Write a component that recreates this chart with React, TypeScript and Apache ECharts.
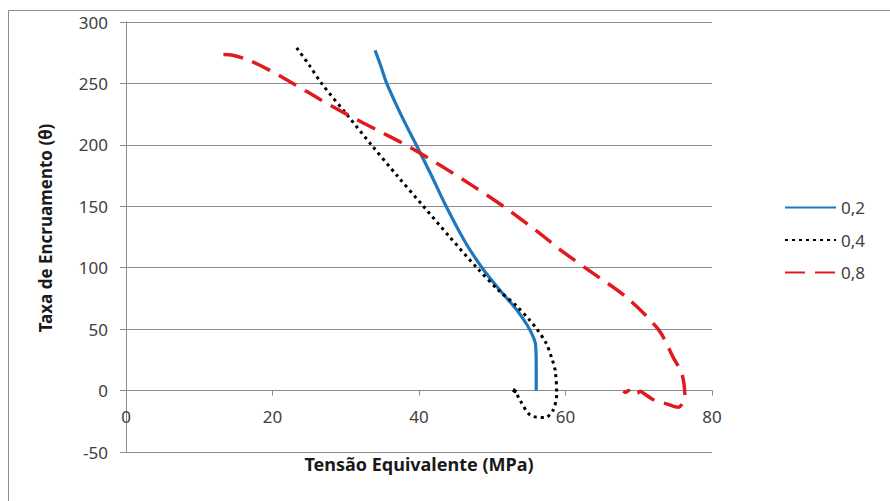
import React, { useEffect, useRef } from "react";
import * as echarts from "echarts";

const seriesNames = ["0,2", "0,4", "0,8"];

const s02: [number, number][] = [
  [34.0, 277], [34.8, 264], [35.6, 250], [37.5, 225], [39.7, 199], [41.7, 175],
  [43.7, 150], [46.2, 122], [48.6, 100], [51.0, 82], [53.3, 66], [54.7, 54],
  [55.5, 45], [55.9, 38], [56.0, 20], [56.0, 0],
];

const s04: [number, number][] = [
  [23.3, 279], [25.0, 265], [26.7, 250], [30.1, 225], [33.5, 200], [37.0, 175],
  [40.6, 150], [44.2, 125], [47.9, 100], [50.8, 82], [53.3, 69], [55.0, 58],
  [56.1, 50], [57.4, 38], [58.2, 25], [58.6, 16], [58.8, -3], [58.3, -16],
  [57.2, -22], [55.2, -20], [53.8, -8], [53.1, 0], [52.7, 1.5], [53.3, -1],
  [52.8, 0.5], [53.2, -1.5],
];

const s08: [number, number][] = [
  [13.3, 273.5], [14.6, 273], [16.9, 268.6], [19.5, 261], [22.8, 250], [26.5, 237],
  [30.1, 225], [34.3, 212], [38.5, 199], [43.0, 183], [47.5, 166], [51.5, 150],
  [56.7, 127], [59.2, 115], [62.9, 99], [68.3, 76], [72.7, 49.6], [74.7, 27],
  [75.9, 13.6], [76.3, -5.5], [75.9, -11], [75.4, -13.6], [73.8, -10.8],
  [72.2, -8.1], [70.6, -2], [70.2, -0.5], [69.8, -2], [69.4, 0], [69.0, -2],
  [68.6, 0], [68.2, -1.5], [67.9, -0.5],
];

const xTicks = { min: 0, max: 80, interval: 20 };
const yTicks = { min: -50, max: 300, interval: 50 };

const FONT = "Noto Sans";
const GRID_TOP = 22;
const GRID_BOTTOM = 49;
const GRID_H = 501 - GRID_TOP - GRID_BOTTOM;

export default function App() {
  const ref = useRef<HTMLDivElement>(null);
  useEffect(() => {
    if (!ref.current) return;
    const chart = echarts.init(ref.current, undefined, { renderer: "svg" });
    // x axis sits on y = 0: shift it up from the grid bottom by the height of (0 - min)
    const zeroOffset = (GRID_H * (0 - yTicks.min)) / (yTicks.max - yTicks.min);
    chart.setOption({
      animation: false,
      backgroundColor: "#ffffff",
      textStyle: { fontFamily: FONT },
      graphic: [
        {
          type: "rect",
          shape: { x: 8.5, y: 10.5, width: 1000, height: 1000 },
          style: { fill: "none", stroke: "#8c8c8c", lineWidth: 1 },
          silent: true,
        },
      ],
      grid: {
        left: 126,
        right: 178,
        top: GRID_TOP,
        bottom: GRID_BOTTOM,
        containLabel: false,
        outerBoundsMode: "none",
      },
      legend: {
        orient: "vertical",
        left: 779,
        top: 194,
        itemWidth: 51,
        itemHeight: 14,
        itemGap: 15.5,
        itemStyle: { opacity: 0 },
        textStyle: { fontSize: 17, color: "#404040", fontFamily: FONT },
        data: seriesNames,
      },
      xAxis: {
        type: "value",
        min: xTicks.min,
        max: xTicks.max,
        interval: xTicks.interval,
        position: "bottom",
        offset: -zeroOffset,
        name: "Tensão Equivalente (MPa)",
        nameLocation: "middle",
        nameGap: 64,
        nameTextStyle: { fontSize: 18, fontWeight: "bold", color: "#1a1a1a", fontFamily: FONT },
        axisLine: { onZero: false, lineStyle: { color: "#8c8c8c", width: 1 } },
        axisTick: { show: true, inside: false, length: 5, lineStyle: { color: "#8c8c8c" } },
        axisLabel: { fontSize: 17, color: "#404040", margin: 17, fontFamily: FONT },
        splitLine: { show: false },
      },
      yAxis: {
        type: "value",
        min: yTicks.min,
        max: yTicks.max,
        interval: yTicks.interval,
        name: "Taxa de Encruamento (θ)",
        nameLocation: "middle",
        nameGap: 72,
        nameTextStyle: {
          fontSize: 17,
          fontWeight: "bold",
          color: "#1a1a1a",
          fontFamily: FONT,
          padding: [0, 0, 0, 18],
        },
        axisLine: { show: true, onZero: false, lineStyle: { color: "#8c8c8c", width: 1 } },
        axisTick: { show: true, inside: false, length: 6, lineStyle: { color: "#8c8c8c" } },
        axisLabel: { fontSize: 17, color: "#404040", margin: 18, fontFamily: FONT },
        splitLine: { show: true, lineStyle: { color: "#8c8c8c", width: 1 } },
      },
      series: [
        {
          name: seriesNames[0],
          type: "line",
          data: s02,
          showSymbol: false,
          symbol: "none",
          smooth: 0.3,
          lineStyle: { color: "#1f77bd", width: 3.2, type: "solid" },
          itemStyle: { color: "#1f77bd" },
        },
        {
          name: seriesNames[1],
          type: "line",
          data: s04,
          showSymbol: false,
          symbol: "none",
          smooth: 0.3,
          lineStyle: { color: "#000000", width: 3, type: [3, 4] },
          itemStyle: { color: "#000000" },
        },
        {
          name: seriesNames[2],
          type: "line",
          data: s08,
          showSymbol: false,
          symbol: "none",
          smooth: 0.3,
          lineStyle: { color: "#e01b1f", width: 3.5, type: [20, 10] },
          itemStyle: { color: "#e01b1f" },
        },
      ],
    });
    return () => chart.dispose();
  }, []);
  return (
    <div
      ref={ref}
      style={{ position: "absolute", left: 0, top: 0, width: 890, height: 501 }}
    />
  );
}
